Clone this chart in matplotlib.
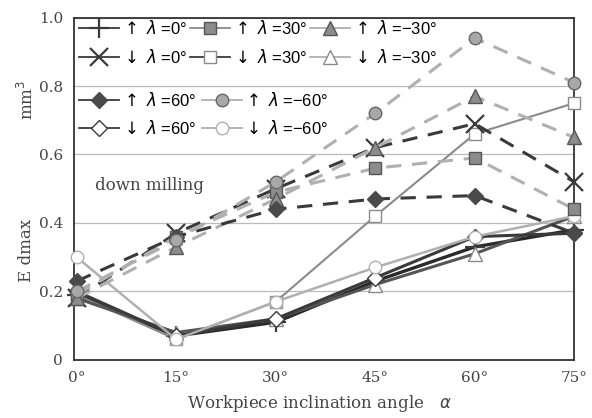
import matplotlib
matplotlib.use("Agg")
import matplotlib.pyplot as plt
from matplotlib.lines import Line2D

angles = [0, 15, 30, 45, 60, 75]
xticklabels = ["0°", "15°", "30°", "45°", "60°", "75°"]
yticks = [0, 0.2, 0.4, 0.6, 0.8, 1.0]
yticklabels = ["0", "0.2", "0.4", "0.6", "0.8", "1.0"]

up_l0 = [0.19, 0.07, 0.11, 0.23, 0.33, 0.38]
dn_l0 = [0.18, 0.37, 0.50, 0.62, 0.69, 0.52]
up_l30 = [0.19, 0.36, 0.49, 0.56, 0.59, 0.44]
dn_l30 = [0.19, 0.06, 0.17, 0.42, 0.66, 0.75]
up_lm30 = [0.18, 0.33, 0.47, 0.62, 0.77, 0.65]
dn_lm30 = [0.18, 0.08, 0.12, 0.22, 0.31, 0.42]
up_l60 = [0.23, 0.36, 0.44, 0.47, 0.48, 0.37]
dn_l60 = [0.20, 0.07, 0.12, 0.24, 0.36, 0.37]
up_lm60 = [0.20, 0.35, 0.52, 0.72, 0.94, 0.81]
dn_lm60 = [0.30, 0.06, 0.17, 0.27, 0.36, 0.42]

labels = {
    "up_l0": "$\\uparrow$ $\\lambda$ =0°", "dn_l0": "$\\downarrow$ $\\lambda$ =0°",
    "up_l30": "$\\uparrow$ $\\lambda$ =30°", "dn_l30": "$\\downarrow$ $\\lambda$ =30°",
    "up_lm30": "$\\uparrow$ $\\lambda$ =−30°", "dn_lm30": "$\\downarrow$ $\\lambda$ =−30°",
    "up_l60": "$\\uparrow$ $\\lambda$ =60°", "dn_l60": "$\\downarrow$ $\\lambda$ =60°",
    "up_lm60": "$\\uparrow$ $\\lambda$ =−60°", "dn_lm60": "$\\downarrow$ $\\lambda$ =−60°",
}

DARK = "#3a3a3a"
MID = "#8a8a8a"
LIGHT = "#b0b0b0"

# style: (data, line color, linestyle, lw, marker, ms, facecolor, edgecolor)
series = {
    "up_l0": (up_l0, "#2a2a2a", "-", 2.4, "+", 14, DARK, DARK),
    "dn_l30": (dn_l30, MID, "-", 1.5, "s", 9, "white", MID),
    "dn_lm30": (dn_lm30, "#555555", "-", 2.2, "^", 10, "white", MID),
    "dn_l60": (dn_l60, DARK, "-", 2.2, "D", 8, "white", DARK),
    "dn_lm60": (dn_lm60, LIGHT, "-", 1.8, "o", 9, "white", LIGHT),
    "dn_l0": (dn_l0, DARK, (0, (5, 3.5)), 2.2, "x", 13, DARK, DARK),
    "up_l30": (up_l30, LIGHT, (0, (5, 3.5)), 2.2, "s", 9, "#8c8c8c", "#555555"),
    "up_lm30": (up_lm30, LIGHT, (0, (5, 3.5)), 2.2, "^", 10, "#8c8c8c", "#555555"),
    "up_l60": (up_l60, DARK, (0, (5, 3.5)), 2.2, "D", 8, "#4a4a4a", "#4a4a4a"),
    "up_lm60": (up_lm60, LIGHT, (0, (5, 3.5)), 2.2, "o", 9, "#a8a8a8", "#666666"),
}

plt.rcParams["font.family"] = ["DejaVu Serif"]
fig = plt.figure(figsize=(5.92, 4.18), dpi=100)
ax = fig.add_axes([0.125, 0.139, 0.845, 0.819])

for key, (data, c, ls, lw, m, ms, fc, ec) in series.items():
    ax.plot(angles, data, color=c, linestyle=ls, linewidth=lw, marker=m,
            markersize=ms, markerfacecolor=fc, markeredgecolor=ec,
            markeredgewidth=1.6 if m in "+x" else 1.0, clip_on=False, zorder=3)

ax.set_xlim(-0.4, 75)
ax.set_ylim(0, 1.0)
ax.set_xticks(angles)
ax.set_xticklabels(xticklabels)
ax.set_yticks(yticks)
ax.set_yticklabels(yticklabels)
ax.tick_params(length=0, labelsize=11, colors="#444444", pad=8)
ax.yaxis.grid(True, color="#bbbbbb", linewidth=0.9)
ax.set_axisbelow(True)
for s in ax.spines.values():
    s.set_color("#333333")
    s.set_linewidth(1.3)

ax.text(2.8, 0.51, "down milling", fontsize=12, color="#444444", va="center")

fig.text(0.54, 0.025, "Workpiece inclination angle   $\\alpha$", ha="center",
         fontsize=12, color="#444444")
fig.text(0.045, 0.40, "E dmax", rotation=90, ha="center", va="center",
         fontsize=12, color="#444444")
fig.text(0.045, 0.76, "mm$^3$", rotation=90, ha="center", va="center",
         fontsize=12, color="#444444")

# legend proxies (solid lines like the reference)
def proxy(key, color):
    data, c, ls, lw, m, ms, fc, ec = series[key]
    return Line2D([], [], color=color, linestyle="-", linewidth=1.3, marker=m,
                  markersize=ms, markerfacecolor=fc, markeredgecolor=ec,
                  markeredgewidth=1.6 if m in "+x" else 1.0)

leg_font = {"family": ["Liberation Sans", "DejaVu Sans"], "size": 12}
keys_a = ["up_l0", "dn_l0", "up_l30", "dn_l30", "up_lm30", "dn_lm30"]
cols_a = [DARK, DARK, MID, DARK, LIGHT, LIGHT]
leg1 = ax.legend([proxy(k, c) for k, c in zip(keys_a, cols_a)],
                 [labels[k] for k in keys_a], ncol=3, loc="upper left",
                 bbox_to_anchor=(-0.01, 1.025), frameon=False, prop=leg_font,
                 handlelength=2.4, handletextpad=0.1, columnspacing=0.2,
                 labelspacing=0.7, borderaxespad=0.2)
ax.add_artist(leg1)
keys_b = ["up_l60", "dn_l60", "up_lm60", "dn_lm60"]
cols_b = [DARK, DARK, LIGHT, LIGHT]
ax.legend([proxy(k, c) for k, c in zip(keys_b, cols_b)],
          [labels[k] for k in keys_b], ncol=2, loc="upper left",
          bbox_to_anchor=(-0.01, 0.815), frameon=False, prop=leg_font,
          handlelength=2.4, handletextpad=0.1, columnspacing=0.35,
          labelspacing=0.65, borderaxespad=0.2)

fig.savefig("out.png", dpi=100)
